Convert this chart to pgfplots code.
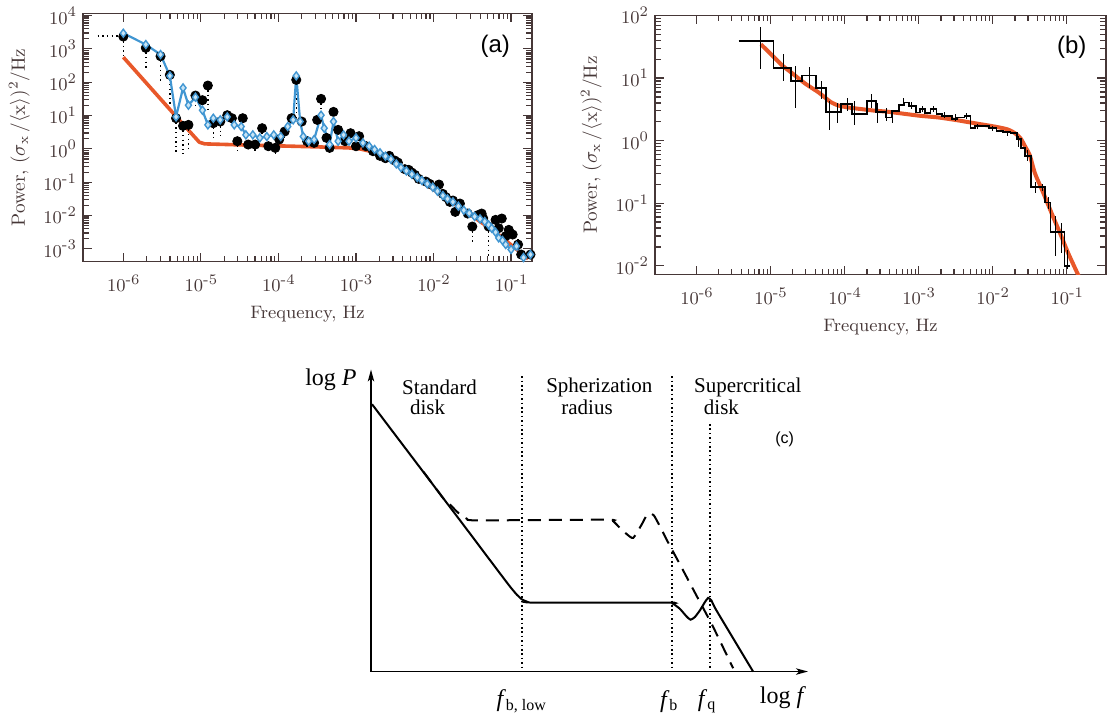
\documentclass[border=0pt]{standalone}
\usepackage{pgfplots}
\pgfplotsset{compat=1.18}
\usepackage{pgfplotstable}
\usepackage{fontspec}
\usetikzlibrary{arrows.meta}
\newfontfamily\arialfont{Liberation Sans}
\newfontfamily\timesfont{Liberation Serif}
\definecolor{axcol}{RGB}{70,55,55}
\definecolor{bluel}{RGB}{65,150,210}
\definecolor{bluefill}{RGB}{200,228,245}
\definecolor{orng}{RGB}{232,88,42}

% ---------- panel (a): log10 f, log10 P ----------
\pgfplotstableread{
lf lp up lo
-6.00 3.37 3.55 2.75
-5.71 3.03 3.10 2.35
-5.52 2.78 2.78 2.00
-5.40 2.22 2.22 1.27
-5.32 0.92 0.92 -0.15
-5.23 0.69 0.69 -0.15
-5.16 0.72 0.72 -0.10
-5.07 1.60 1.70 1.30
-4.98 1.46 1.46 1.46
-4.91 1.90 2.05 1.15
-4.84 0.77 0.77 0.35
-4.75 0.82 0.82 0.40
-4.66 1.01 1.01 1.01
-4.60 0.92 0.92 0.92
-4.53 0.23 0.23 -0.05
-4.46 0.92 0.92 0.92
-4.39 0.13 0.13 0.13
-4.30 0.13 0.13 -0.05
-4.21 0.62 0.62 0.35
-4.13 0.08 0.08 0.08
-4.04 0.03 0.03 -0.15
-3.99 0.28 0.28 0.28
-3.92 0.52 0.52 0.30
-3.83 0.92 0.92 0.92
-3.77 2.07 2.12 0.95
-3.70 0.82 0.82 0.82
-3.63 0.23 0.23 0.00
-3.54 0.18 0.18 0.18
-3.50 0.87 0.87 0.87
-3.45 1.50 1.60 0.90
-3.38 0.33 0.33 0.33
-3.34 0.03 0.03 -0.10
-3.29 1.11 1.11 0.75
-3.23 0.57 0.57 0.57
-3.14 0.23 0.23 0.23
-3.07 0.47 0.47 0.47
-3.00 0.08 0.08 0.08
-2.96 0.38 0.38 0.38
-2.87 0.08 0.08 0.08
-2.78 -0.07 -0.07 -0.20
-2.69 -0.21 -0.21 -0.21
-2.62 -0.28 -0.28 -0.28
-2.57 -0.21 -0.21 -0.21
-2.50 -0.35 -0.35 -0.35
-2.46 -0.41 -0.41 -0.41
-2.37 -0.61 -0.61 -0.61
-2.32 -0.63 -0.63 -0.63
-2.28 -0.71 -0.71 -0.71
-2.24 -0.78 -0.78 -0.78
-2.19 -0.90 -0.90 -0.90
-2.10 -0.98 -0.98 -0.98
-2.05 -1.05 -1.05 -1.05
-1.97 -1.15 -1.15 -1.15
-1.93 -1.07 -1.07 -1.07
-1.88 -1.35 -1.35 -1.35
-1.84 -1.45 -1.45 -1.45
-1.79 -1.59 -1.59 -1.59
-1.75 -1.55 -1.55 -1.55
-1.72 -1.89 -1.89 -2.05
-1.66 -1.64 -1.64 -1.64
-1.56 -1.94 -1.94 -1.94
-1.50 -2.33 -2.33 -2.85
-1.43 -1.99 -1.99 -1.99
-1.38 -1.94 -1.94 -1.94
-1.36 -2.08 -2.08 -2.08
-1.29 -2.33 -2.33 -3.25
-1.20 -2.13 -2.13 -2.13
-1.12 -2.09 -2.09 -2.09
-1.16 -2.38 -2.38 -2.38
-1.07 -2.62 -2.62 -2.62
-1.03 -2.43 -2.43 -2.43
-0.98 -2.57 -2.57 -2.57
-0.91 -2.87 -2.70 -3.00
-0.87 -3.17 -3.17 -3.17
-0.75 -3.17 -3.17 -3.17
}\tblAdots

\pgfplotstableread{
lf lp
-6.00 3.47
-5.71 3.13
-5.52 2.83
-5.40 2.19
-5.32 0.96
-5.23 1.83
-5.16 1.31
-5.07 1.55
-4.98 1.16
-4.91 0.72
-4.84 0.92
-4.75 0.87
-4.66 0.96
-4.57 0.72
-4.48 0.67
-4.42 0.42
-4.33 0.42
-4.24 0.33
-4.15 0.37
-4.06 0.42
-3.97 0.37
-3.88 0.67
-3.81 0.87
-3.77 2.19
-3.72 0.82
-3.68 0.37
-3.61 0.23
-3.54 0.28
-3.45 1.01
-3.41 0.62
-3.34 0.13
-3.29 0.82
-3.23 0.23
-3.16 0.42
-3.09 0.23
-3.00 0.33
-2.91 0.18
-2.83 0.08
-2.76 -0.02
-2.69 -0.12
-2.62 -0.22
-2.55 -0.31
-2.48 -0.45
-2.42 -0.56
-2.35 -0.66
-2.28 -0.76
-2.21 -0.86
-2.15 -0.95
-2.08 -1.05
-2.01 -1.15
-1.95 -1.27
-1.88 -1.40
-1.82 -1.50
-1.75 -1.59
-1.68 -1.72
-1.61 -1.84
-1.54 -1.93
-1.47 -2.03
-1.40 -2.10
-1.34 -2.18
-1.29 -2.28
-1.25 -2.38
-1.20 -2.50
-1.16 -2.67
-1.11 -2.75
-1.07 -2.87
-1.00 -3.02
-0.93 -2.92
-0.84 -3.26
-0.75 -3.17
}\tblAblue

\pgfplotstableread{
lf lp
-6.00 2.75
-5.28 0.87
-5.02 0.20
-4.95 0.15
-4.50 0.12
-4.00 0.09
-3.50 0.06
-3.10 0.03
-2.95 0.00
-2.80 -0.08
-2.65 -0.20
-2.00 -1.22
-1.20 -2.50
-0.78 -3.30
}\tblAmodel

% ---------- panel (b) ----------
\pgfplotstableread{
lf lp
-5.43 1.597
-4.96 1.16
-4.726 0.955
-4.572 1.04
-4.382 0.84
-4.25 0.46
-4.05 0.585
-3.905 0.425
-3.694 0.63
-3.58 0.46
-3.446 0.37
-3.357 0.48
-3.267 0.57
-3.20 0.61
-3.13 0.56
-3.04 0.45
-2.98 0.51
-2.91 0.44
-2.84 0.50
-2.76 0.43
-2.69 0.40
-2.62 0.39
-2.55 0.34
-2.48 0.37
-2.38 0.39
-2.30 0.20
-2.24 0.23
-2.14 0.24
-2.05 0.20
-1.95 0.16
-1.86 0.14
-1.76 0.12
-1.67 0.02
-1.62 -0.12
-1.56 -0.24
-1.48 -0.74
-1.29 -0.99
-1.22 -1.46
-1.03 -2.00
-0.95 -2.00
}\tblBstep

\pgfplotstableread{
lf lp up lo
-5.13 1.597 1.812 1.141
-4.82 1.16 1.383 0.953
-4.66 0.955 1.195 0.523
-4.48 1.04 1.18 0.835
-4.31 0.84 0.953 0.658
-4.20 0.46 0.631 0.175
-4.09 0.46 0.604 0.282
-3.96 0.585 0.685 0.47
-3.86 0.425 0.631 0.255
-3.64 0.63 0.738 0.523
-3.55 0.46 0.604 0.282
-3.43 0.37 0.523 0.309
-3.36 0.37 0.47 0.28
-3.20 0.61 0.68 0.55
-3.09 0.56 0.62 0.50
-2.95 0.51 0.56 0.45
-2.80 0.50 0.55 0.45
-2.65 0.40 0.45 0.36
-2.50 0.37 0.42 0.32
-2.35 0.39 0.44 0.34
-2.20 0.23 0.27 0.19
-2.00 0.20 0.24 0.16
-1.80 0.12 0.16 0.08
-1.65 0.02 0.08 -0.105
-1.53 -0.24 -0.15 -0.32
-1.42 -0.74 -0.66 -0.84
-1.33 -0.74 -0.70 -0.80
-1.25 -0.99 -0.90 -1.10
-1.15 -1.46 -1.20 -1.84
-1.07 -1.46 -1.32 -1.79
-0.99 -2.00 -1.75 -2.05
}\tblBerr

\pgfplotstableread{
lf lp
-5.13 1.54
-4.95 1.33
-4.84 1.20
-4.70 1.07
-4.53 0.91
-4.35 0.77
-4.19 0.62
-4.08 0.56
-3.95 0.53
-3.85 0.515
-3.60 0.48
-3.40 0.46
-3.00 0.40
-2.73 0.37
-2.50 0.33
-2.20 0.27
-1.95 0.22
-1.80 0.18
-1.70 0.12
-1.62 0.03
-1.55 -0.12
-1.50 -0.23
-1.43 -0.52
-1.34 -0.77
-1.27 -0.97
-1.18 -1.23
-1.09 -1.48
-0.98 -1.80
-0.84 -2.16
}\tblBmodel

% ---------- panel (c): sketch in arbitrary units ----------
\pgfplotstableread{
x y
125 810
300 577
400 444
500 310
540 257
560 233
575 219
590 212
610 209
1015 209
1030 205
1050 190
1070 167
1082 157
1095 165
1110 185
1125 210
1135 223
1145 215
1160 185
1270 0
}\tblCsolid

\pgfplotstableread{
x y
280 605
345 517
360 505
385 480
410 463
440 458
830 460
850 455
870 435
892 415
910 405
935 445
950 473
960 479
972 473
990 440
1010 400
1050 325
1100 230
1150 135
1210 10
}\tblCdash

\pgfplotsset{
  log number format basis/.code 2 args={#1\raisebox{0.42em}{\fontsize{7.3}{8}\selectfont\pgfmathprintnumber[assume math mode=true]{#2}}},
  specaxis/.style={
    scale only axis,
    axis line style={axcol, line width=0.8pt},
    every tick/.style={axcol, line width=0.6pt},
    tick label style={font=\fontsize{9}{10}\selectfont, text=axcol},
    label style={font=\fontsize{9}{10}\selectfont, text=axcol},
    ylabel style={font=\fontsize{9.6}{11}\selectfont},
    xticklabel shift=3pt,
    xlabel={Frequency, Hz},
    ylabel={Power, ($\sigma_{\mathrm{x}}$\,/$\langle$x$\rangle$)\textsuperscript{2}/Hz},
  },
}

\begin{document}
\begin{tikzpicture}
\path (0,0) rectangle (556.5pt,360pt);

% ----- (a)
\begin{loglogaxis}[specaxis, at={(41.5pt,229.5pt)}, anchor=south west,
  width=224.5pt, height=124pt,
  xmin=3.02e-7, xmax=0.186, ymin=4.17e-4, ymax=1.15e4,
  ytick={1e-3,1e-2,1e-1,1,10,100,1000,10000},
  xtick={1e-6,1e-5,1e-4,1e-3,1e-2,1e-1}]
\addplot[orng, line width=1.8pt, line join=round] table[x expr=10^\thisrow{lf}, y expr=10^\thisrow{lp}] \tblAmodel;
\addplot[black, line width=0.7pt, dash pattern=on 0.7pt off 1.6pt] coordinates {(4.68e-7,2455) (1e-6,2455)};
\addplot[only marks, mark=*, mark size=2.3pt, black,
  error bars/.cd, y dir=both, y explicit, error mark=none,
  error bar style={black, line width=0.7pt, dash pattern=on 0.7pt off 1.6pt}]
  table[x expr=10^\thisrow{lf}, y expr=10^\thisrow{lp},
        y error plus expr=10^\thisrow{up}-10^\thisrow{lp},
        y error minus expr=10^\thisrow{lp}-10^\thisrow{lo}] \tblAdots;
\addplot[bluel, line width=1.1pt, mark=diamond*, mark size=2pt,
  mark options={fill=bluefill, draw=bluel, line width=0.7pt}]
  table[x expr=10^\thisrow{lf}, y expr=10^\thisrow{lp}] \tblAblue;
\node[font=\arialfont\fontsize{12}{14}\selectfont] at (rel axis cs:0.918,0.866) {(a)};
\end{loglogaxis}

% ----- (b)
\begin{loglogaxis}[specaxis, at={(327.5pt,223pt)}, anchor=south west,
  width=225.5pt, height=129.5pt,
  xmin=2.75e-7, xmax=0.339, ymin=7.24e-3, ymax=100,
  ytick={1e-2,1e-1,1,10,100},
  xtick={1e-6,1e-5,1e-4,1e-3,1e-2,1e-1}]
\addplot[orng, line width=2pt, smooth, tension=0.4] table[x expr=10^\thisrow{lf}, y expr=10^\thisrow{lp}] \tblBmodel;
\addplot[draw=none, mark=none,
  error bars/.cd, y dir=both, y explicit, error mark=none,
  error bar style={draw=black, line width=0.5pt}]
  table[x expr=10^\thisrow{lf}, y expr=10^\thisrow{lp},
        y error plus expr=10^\thisrow{up}-10^\thisrow{lp},
        y error minus expr=10^\thisrow{lp}-10^\thisrow{lo}] \tblBerr;
\addplot[black, line width=0.9pt, mark=none, const plot mark left] table[x expr=10^\thisrow{lf}, y expr=10^\thisrow{lp}] \tblBstep;
\node[font=\arialfont\fontsize{12}{14}\selectfont] at (rel axis cs:0.924,0.877) {(b)};
\end{loglogaxis}

% ----- (c)
\begin{axis}[at={(185.5pt,24.5pt)}, anchor=south west, scale only axis,
  width=218.5pt, height=151pt, xmin=122, xmax=1435, ymin=0, ymax=915,
  axis lines=left, xtick=\empty, ytick=\empty, clip=false,
  axis line style={black, line width=0.8pt, -{Stealth[length=6pt,width=3.2pt,inset=1.5pt]}}]
\addplot[black, line width=0.8pt, dash pattern=on 0.8pt off 1.4pt] coordinates {(575,895) (575,5)};
\addplot[black, line width=0.8pt, dash pattern=on 0.8pt off 1.4pt] coordinates {(1027,895) (1027,5)};
\addplot[black, line width=0.8pt, dash pattern=on 0.8pt off 1.4pt] coordinates {(1140,750) (1140,5)};
\addplot[black, line width=1pt, smooth, tension=0.35] table[x=x, y=y] \tblCsolid;
\addplot[black, line width=1pt, dash pattern=on 6.5pt off 4pt, smooth, tension=0.35] table[x=x, y=y] \tblCdash;
\begin{scope}[font=\timesfont\fontsize{10.5}{12}\selectfont]
\node at (axis cs:328,860) {Standard};
\node at (axis cs:292,802) {disk};
\node at (axis cs:808,860) {Spherization};
\node at (axis cs:771,802) {radius};
\node at (axis cs:1254,860) {Supercritical};
\node at (axis cs:1175,802) {disk};
\end{scope}
\node[font=\arialfont\fontsize{8}{9}\selectfont] at (axis cs:1365,702) {(c)};
\node[font=\timesfont\fontsize{12}{14}\selectfont, anchor=east, inner sep=0pt] at (axis cs:80,885) {log \textit{P}};
\node[font=\timesfont\fontsize{12}{14}\selectfont] at (axis cs:1360,-80) {log \textit{f}};
\node[font=\timesfont\fontsize{12}{14}\selectfont] at (axis cs:575,-90) {\textit{f}\textsubscript{b, low}};
\node[font=\timesfont\fontsize{12}{14}\selectfont] at (axis cs:1018,-90) {\textit{f}\textsubscript{b}};
\node[font=\timesfont\fontsize{12}{14}\selectfont] at (axis cs:1132,-90) {\textit{f}\textsubscript{q}};
\end{axis}
\end{tikzpicture}
\end{document}
